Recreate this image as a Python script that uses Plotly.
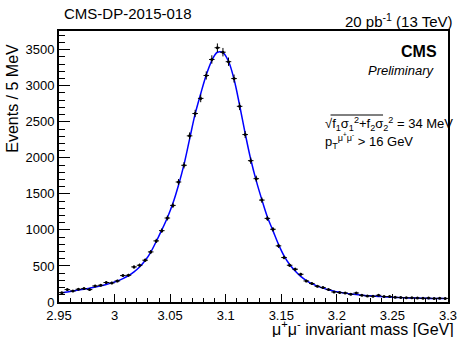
import numpy as np
import plotly.graph_objects as go

# bin centres (5 MeV bins from 2.95 to 3.30 GeV)
mass_lo = 2.95
bin_width = 0.005
counts = [130, 172, 153, 177, 186, 172, 223, 232, 270, 264,
          292, 367, 371, 487, 510, 580, 695, 848, 990, 1165,
          1340, 1665, 1897, 2305, 2615, 2825, 3143, 3365, 3528, 3466,
          3334, 3100, 2715, 2323, 1961, 1711, 1414, 1160, 1009, 779,
          617, 510, 455, 385, 292, 256, 218, 200, 172, 139,
          131, 125, 107, 125, 93, 83, 79, 93, 75, 75,
          65, 62, 58, 58, 55, 52, 55, 50, 52, 50]
fit_vals = [128, 140, 153, 165, 178, 192, 207, 224, 243, 265,
            292, 325, 365, 418, 485, 575, 690, 840, 1000, 1170,
            1370, 1620, 1910, 2260, 2610, 2890, 3150, 3350, 3465, 3460,
            3340, 3090, 2730, 2340, 1980, 1680, 1420, 1180, 990, 800,
            640, 520, 430, 355, 298, 255, 220, 192, 170, 151,
            136, 123, 112, 103, 95, 88, 82, 77, 72, 68,
            64, 61, 58, 56, 54, 52, 50, 49, 48, 47]
x_tickvals = [2.95, 3.0, 3.05, 3.1, 3.15, 3.2, 3.25, 3.3]
x_ticktext = ["2.95", "3", "3.05", "3.1", "3.15", "3.2", "3.25", "3.3"]
y_tickvals = [0, 500, 1000, 1500, 2000, 2500, 3000, 3500]

centres = [mass_lo + bin_width * (i + 0.5) for i in range(len(counts))]
errs = [np.sqrt(c) for c in counts]

fig = go.Figure()
fig.add_trace(go.Scatter(
    x=centres, y=fit_vals, mode="lines", line=dict(color="#0000ff", width=1.5, shape="spline"),
    hoverinfo="skip", showlegend=False))
fig.add_trace(go.Scatter(
    x=centres, y=counts, mode="markers",
    marker=dict(color="black", size=3, symbol="circle"),
    error_x=dict(type="constant", value=bin_width / 2, color="black", thickness=1, width=0),
    error_y=dict(type="data", array=errs, color="black", thickness=1, width=0),
    showlegend=False))

font_family = "Liberation Sans, Arial, sans-serif"
axis_common = dict(showline=True, linecolor="black", linewidth=2, mirror=True,
                   ticks="inside", tickcolor="black", showgrid=False, zeroline=False,
                   tickfont=dict(family=font_family, size=13, color="black"))
fig.update_xaxes(range=[2.95, 3.3], tickvals=x_tickvals, ticktext=x_ticktext, ticklen=8,
                 ticklabelstandoff=0,
                 minor=dict(ticks="inside", dtick=0.01, ticklen=4, tickcolor="black"),
                 **axis_common)
fig.update_yaxes(range=[0, 3760], tickvals=y_tickvals, ticklen=11,
                 minor=dict(ticks="inside", dtick=100, ticklen=6, tickcolor="black"),
                 **axis_common)

ann_font = dict(family=font_family, color="black")
annotations = [
    dict(text="CMS-DP-2015-018", x=0.0, y=1.0, xref="paper", yref="paper", yshift=18, xshift=3,
         xanchor="left", yanchor="middle", showarrow=False, font=dict(size=15, **ann_font)),
    dict(text="20 pb<sup>-1</sup> (13 TeV)", x=1.0, y=1.0, xref="paper", yref="paper", yshift=11,
         xshift=6, xanchor="right", yanchor="middle", showarrow=False, font=dict(size=15, **ann_font)),
    dict(text="<b>CMS</b>", x=0.95, y=0.925, xref="paper", yref="paper", xshift=10,
         xanchor="right", yanchor="middle", showarrow=False, font=dict(size=16, **ann_font)),
    dict(text="<i>Preliminary</i>", x=0.95, y=0.853, xref="paper", yref="paper", xshift=8,
         xanchor="right", yanchor="middle", showarrow=False, font=dict(size=13, **ann_font)),
    dict(text="√f<sub>1</sub>σ<sub>1</sub><sup>2</sup>+f<sub>2</sub>σ<sub>2</sub><sup>2</sup> = 34 MeV",
         x=0.678, y=0.655, xref="paper", yref="paper",
         xanchor="left", yanchor="middle", showarrow=False, font=dict(size=13, **ann_font)),
    dict(text="p<sub>T</sub><sup>μ<sup>+</sup>μ<sup>-</sup></sup> > 16 GeV",
         x=0.678, y=0.595, xref="paper", yref="paper",
         xanchor="left", yanchor="middle", showarrow=False, font=dict(size=13, **ann_font)),
    dict(text="μ<sup>+</sup>μ<sup>-</sup> invariant mass [GeV]", x=1.0, y=0, xref="paper", yref="paper",
         yshift=-14, xshift=8, xanchor="right", yanchor="top", showarrow=False, font=dict(size=16, **ann_font)),
    dict(text="Events / 5 MeV", x=0, y=0.75, xref="paper", yref="paper", xshift=-46,
         xanchor="center", yanchor="middle", textangle=-90, showarrow=False, font=dict(size=16, **ann_font)),
]
shapes = [dict(type="line", xref="paper", yref="paper", x0=0.698, x1=0.833, y0=0.69, y1=0.69,
               line=dict(color="black", width=1))]
fig.update_layout(width=465, height=337, margin=dict(l=59, r=8, t=31, b=35),
                  paper_bgcolor="white", plot_bgcolor="white", annotations=annotations,
                  shapes=shapes, font=dict(family=font_family, color="black"))
fig.write_html("out.html", config={"displayModeBar": False},
               post_script="document.body.style.margin='0';")
